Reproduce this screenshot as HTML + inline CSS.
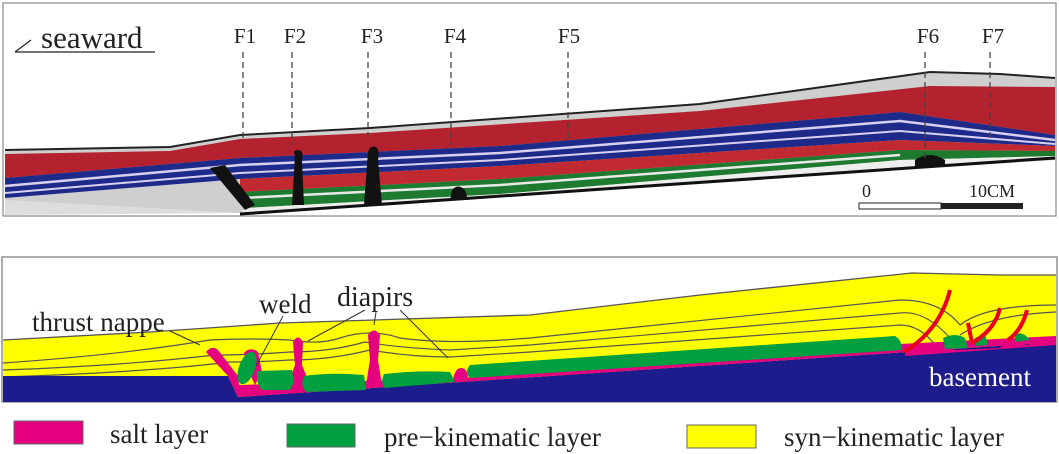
<!DOCTYPE html>
<html><head><meta charset="utf-8">
<style>
html,body{margin:0;padding:0;background:#fff;}
svg{display:block;font-family:"Liberation Serif",serif;}
</style></head>
<body>
<svg width="1059" height="454" viewBox="0 0 1059 454">
  <!-- TOP PANEL -->
  <g>
    <rect x="3" y="3" width="1053" height="213" fill="#fff" stroke="#888" stroke-width="1.2"/>
    <polygon points="5,190 230,182 245,213 5,215" fill="#ddd"/>
    <polygon points="5,150 170,147 240,135 370,128 700,104 930,72 1000,74 1055,78 1055,160 240,213 5,200" fill="#cfcfcf"/>
    <polyline points="5,150 170,147 240,135 370,128 700,104 930,72 1000,74 1055,78" fill="none" stroke="#222" stroke-width="2"/>
    <polygon points="5,154 170,151 240,139 370,133 700,111 930,86 1055,87 1055,135 900,112 500,146 240,158 5,178" fill="#b3222e"/>
    <polygon points="5,178 240,158 500,146 900,112 1055,135 1055,146 900,140 500,166 240,179 5,198" fill="#1e2a8a"/>
    <polyline points="5,186 240,165 500,153 900,121 1055,140" fill="none" stroke="#d8d0ee" stroke-width="2.5"/>
    <polyline points="5,193 240,173 500,160 900,131 1055,144" fill="none" stroke="#d8d0ee" stroke-width="2"/>
    <polygon points="240,179 500,166 900,140 1055,146 1055,151 900,150 500,179 240,192" fill="#c02a30"/>
    <polygon points="240,192 500,179 900,150 1055,151 1055,156 900,160 500,194 245,208" fill="#1e7a2e"/>
    <polyline points="242,198 500,185 900,155" fill="none" stroke="#e8e8e8" stroke-width="2.5"/>
    <polygon points="245,208 500,194 900,160 1055,156 1055,158 240,214" fill="#eee"/>
    <polyline points="240,214 1055,158" stroke="#111" stroke-width="3" fill="none"/>
    <path d="M210,168 L245,210 L255,205 L225,165 Z" fill="#111"/>
    <path d="M295,155 Q292,150 298,150 Q304,150 302,160 L304,205 L292,205 Z" fill="#111"/>
    <path d="M368,152 Q370,145 376,147 Q380,150 378,160 L382,205 L364,205 Z" fill="#111"/>
    <path d="M452,190 Q458,183 465,190 L468,200 L450,200 Z" fill="#111"/>
    <path d="M915,160 Q930,150 945,160 L945,165 L915,168 Z" fill="#111"/>
    <text x="862" y="197" font-size="18" fill="#222">0</text>
    <text x="969" y="197" font-size="18" fill="#222">10CM</text>
    <rect x="859" y="203" width="82" height="6" fill="#fff" stroke="#222" stroke-width="1"/>
    <rect x="941" y="203" width="82" height="6" fill="#222"/>
    <text x="41" y="48" font-size="31" fill="#222">seaward</text>
    <line x1="15" y1="52" x2="155" y2="52" stroke="#222" stroke-width="1.2"/>
    <line x1="15" y1="52" x2="31" y2="40" stroke="#222" stroke-width="1.2"/>
    <g font-size="21" fill="#222" text-anchor="middle">
      <text x="245" y="43">F1</text>
      <text x="295" y="43">F2</text>
      <text x="372" y="43">F3</text>
      <text x="455" y="43">F4</text>
      <text x="569" y="43">F5</text>
      <text x="928" y="43">F6</text>
      <text x="993" y="43">F7</text>
    </g>
    <g stroke="#444" stroke-width="1.3" stroke-dasharray="6,4">
      <line x1="243" y1="52" x2="243" y2="138"/>
      <line x1="292" y1="52" x2="292" y2="145"/>
      <line x1="368" y1="52" x2="368" y2="135"/>
      <line x1="451" y1="52" x2="451" y2="145"/>
      <line x1="568" y1="52" x2="568" y2="142"/>
      <line x1="925" y1="52" x2="925" y2="158"/>
      <line x1="990" y1="52" x2="990" y2="140"/>
    </g>
  </g>

  <!-- BOTTOM PANEL -->
  <g>
    <rect x="2" y="257" width="1055" height="145" fill="#fff" stroke="#777" stroke-width="1.2"/>
    <polygon points="3,340 150,332 280,323 530,315 700,295 912,273 1000,275 1056,275 1056,402 3,402" fill="#ffff00"/>
    <polyline points="3,340 150,332 280,323 530,315 700,295 912,273 1000,275 1056,275" fill="none" stroke="#555" stroke-width="1.3"/>
    <g fill="none" stroke="#555" stroke-width="1.2">
      <path d="M3,363 Q120,355 210,340 Q250,338 290,340 Q320,345 340,338 Q370,328 400,338 Q450,345 530,338 L900,300 Q940,300 960,325 Q985,305 1056,305"/>
      <path d="M3,370 Q120,366 215,355 Q250,355 290,352 Q330,352 365,342 Q400,348 450,350 L530,345 L900,313 Q925,310 950,338"/>
      <path d="M3,377 Q150,372 230,362 Q260,362 290,360 Q330,360 370,350 Q410,357 450,357 L530,352 L900,325 Q920,325 935,345"/>
      <path d="M960,335 Q990,315 1056,312"/>
    </g>
    <polygon points="3,376 228,376 238,397 1056,342 1056,402 3,402" fill="#1c1c8c"/>
    <text x="1031" y="386" font-size="27" fill="#fff" text-anchor="end">basement</text>
    <polygon points="238,397 1056,342 1056,336 900,344 460,378 240,385 228,376" fill="#e4007f"/>
    <path d="M206,352 Q212,345 218,350 L238,376 L240,392 L228,376 Z" fill="#e4007f"/>
    <path d="M244,353 Q250,346 258,352 L262,372 L255,385 L248,370 Z" fill="#e4007f"/>
    <path d="M293,342 Q298,333 303,342 L302,365 L310,385 L288,385 L295,365 Z" fill="#e4007f"/>
    <path d="M368,335 Q374,326 380,335 L378,360 L382,385 L366,385 L370,360 Z" fill="#e4007f"/>
    <path d="M453,380 Q455,368 461,368 Q468,368 468,380 Z" fill="#e4007f"/>
    <path d="M905,352 Q930,335 955,350 L1000,348 Q1010,335 1025,345 L1056,340 L1056,345 L905,356 Z" fill="#e4007f"/>
    <g fill="#00a040">
      <ellipse cx="247" cy="368" rx="8" ry="17" transform="rotate(20 247 368)"/>
      <path d="M257,371 L292,370 L294,382 L290,390 L262,390 Q256,384 257,371 Z"/>
      <path d="M304,376 Q330,372 364,375 L366,390 L306,392 Q300,385 304,376 Z"/>
      <path d="M384,374 Q420,370 450,372 L455,382 L385,388 Q380,382 384,374 Z"/>
      <path d="M470,365 L895,336 Q902,340 902,350 L470,378 Q464,372 470,365 Z"/>
      <path d="M943,338 Q955,332 965,338 L968,348 L945,349 Z"/>
      <path d="M975,338 L985,334 L988,345 L976,346 Z"/>
      <path d="M1015,335 Q1022,330 1030,340 L1015,342 Z"/>
    </g>
    <g fill="none" stroke="#e8001c" stroke-width="4">
      <path d="M904,352 Q940,330 950,290"/>
      <path d="M968,323 L972,343"/>
      <path d="M972,343 Q995,330 1000,308"/>
      <path d="M1008,340 Q1022,330 1027,310"/>
    </g>
    <g font-size="27" fill="#222">
      <text x="32" y="331">thrust nappe</text>
      <text x="259" y="313">weld</text>
      <text x="337" y="306" font-size="28">diapirs</text>
    </g>
    <g stroke="#333" stroke-width="1" fill="none">
      <line x1="170" y1="331" x2="200" y2="345"/>
      <line x1="283" y1="316" x2="256" y2="366"/>
      <line x1="365" y1="310" x2="308" y2="341"/>
      <line x1="376" y1="312" x2="374" y2="325"/>
      <line x1="400" y1="310" x2="448" y2="358"/>
    </g>
  </g>

  <!-- LEGEND -->
  <g>
    <rect x="14" y="421" width="69" height="23" fill="#e4007f" stroke="#666" stroke-width="1"/>
    <text x="110" y="443" font-size="27" fill="#222">salt layer</text>
    <rect x="287" y="424" width="68" height="23" fill="#00a040" stroke="#666" stroke-width="1"/>
    <text x="384" y="446" font-size="27" fill="#222">pre−kinematic layer</text>
    <rect x="687" y="425" width="69" height="23" fill="#ffff00" stroke="#666" stroke-width="1"/>
    <text x="784" y="446" font-size="27" fill="#222">syn−kinematic layer</text>
  </g>
</svg>
</body></html>
